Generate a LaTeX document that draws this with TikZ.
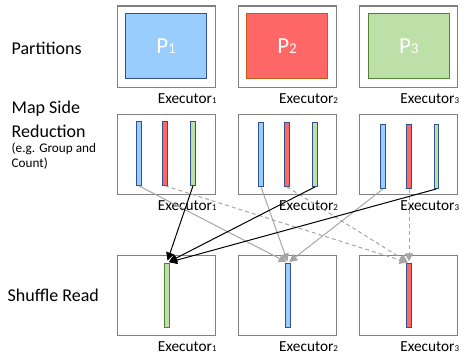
\documentclass[tikz,border=0pt]{standalone}
\usepackage{fontspec}
\setmainfont{Carlito}
\usetikzlibrary{arrows.meta}
\definecolor{boxgray}{HTML}{808080}
\definecolor{fblue}{HTML}{99CCFF}
\definecolor{fred}{HTML}{FF6666}
\definecolor{fgreen}{HTML}{BDDFA8}
\definecolor{dblue}{HTML}{2F528F}
\definecolor{dred}{HTML}{C55A11}
\definecolor{dgreen}{HTML}{548235}
\definecolor{agray}{HTML}{A6A6A6}
\newcommand{\exlab}[1]{Executor{\fontsize{9}{9}\selectfont #1}}
\newcommand{\plab}[1]{P{\fontsize{15}{15}\selectfont #1}}
\tikzset{
  outerbox/.style={draw=boxgray, line width=1.1pt, minimum width=98pt, minimum height=80pt, inner sep=0pt},
  pbox/.style={line width=1pt, minimum width=81.5pt, minimum height=64.7pt, inner sep=0pt, text=white, font=\fontsize{23}{23}\selectfont},
  bar/.style={line width=0.9pt, minimum width=5.4pt, minimum height=64.3pt, inner sep=0pt},
  exl/.style={anchor=east, inner sep=0pt, font=\fontsize{15.3}{15.3}\selectfont},
  rowl/.style={anchor=west, inner sep=0pt, font=\fontsize{18}{18}\selectfont},
  rows/.style={anchor=west, inner sep=0pt, font=\fontsize{13.2}{13.2}\selectfont},
  blk/.style={draw=black, line width=1pt, -{Triangle[length=8pt,width=8pt]}, shorten >=2.5pt},
  gry/.style={draw=agray, line width=1pt, -{Triangle[length=8pt,width=8pt]}, shorten >=1.5pt},
  gryd/.style={gry, dash pattern=on 4pt off 3pt},
}
\begin{document}
\begin{tikzpicture}[x=1pt,y=-1pt]
\useasboundingbox (0,0) rectangle (466,358);
% row labels
\node[rowl] (lpart) at (11.5,48.3) {Partitions};
\node[rowl] (lmap1) at (11.5,109) {Map Side};
\node[rowl] (lmap2) at (11.5,131.7) {Reduction};
\node[rows] (leg1) at (11.5,148.5) {(e.g. Group and};
\node[rows] (leg2) at (11.5,163.5) {Count)};
\node[rowl] (lshuf) at (7.5,295.5) {Shuffle Read};
% row 1
\node[outerbox, minimum height=81.3pt] (o11) at (166.3,46.7) {};
\node[outerbox, minimum height=81.3pt] (o12) at (287.7,46.7) {};
\node[outerbox, minimum height=81.3pt] (o13) at (408.8,46.7) {};
\node[pbox, fill=fblue, draw=dblue] (p1) at (166,46.3) {\plab{1}};
\node[pbox, fill=fred, draw=dred] (p2) at (287,46.3) {\plab{2}};
\node[pbox, fill=fgreen, draw=dgreen] (p3) at (408.8,46.3) {\plab{3}};
\node[exl] (e11) at (216.8,98.7) {\exlab{1}};
\node[exl] (e12) at (338.2,98.7) {\exlab{2}};
\node[exl] (e13) at (459.3,98.7) {\exlab{3}};
% row 2
\node[outerbox] (o21) at (166.3,154.3) {};
\node[outerbox] (o22) at (287.7,154.3) {};
\node[outerbox] (o23) at (408.8,154.3) {};
\node[bar, fill=fblue, draw=dblue] (b1b) at (138.7,153.2) {};
\node[bar, fill=fred, draw=dblue] (b1r) at (165,153.2) {};
\node[bar, fill=fgreen, draw=dblue] (b1g) at (193,153.2) {};
\node[bar, fill=fblue, draw=dblue] (b2b) at (261,154.3) {};
\node[bar, fill=fred, draw=dblue] (b2r) at (287,154.3) {};
\node[bar, fill=fgreen, draw=dblue] (b2g) at (315,154.3) {};
\node[bar, fill=fblue, draw=dblue] (b3b) at (383,156.3) {};
\node[bar, fill=fred, draw=dblue] (b3r) at (409,156.3) {};
\node[bar, fill=fgreen, draw=dblue, minimum width=4.4pt] (b3g) at (436.5,156.3) {};
\node[exl] (e21) at (216.8,206) {\exlab{1}};
\node[exl] (e22) at (338.2,206) {\exlab{2}};
\node[exl] (e23) at (459.3,206) {\exlab{3}};
% row 3
\node[outerbox] (o31) at (166.3,295.3) {};
\node[outerbox] (o32) at (287.7,295.3) {};
\node[outerbox] (o33) at (408.8,295.3) {};
\node[bar, fill=fgreen, draw=dgreen] (s1) at (166.7,295.5) {};
\node[bar, fill=fblue, draw=dblue] (s2) at (288,295.5) {};
\node[bar, fill=fred, draw=dblue] (s3) at (409,295.5) {};
\node[exl] (e31) at (216.8,346.7) {\exlab{1}};
\node[exl] (e32) at (338.2,346.7) {\exlab{2}};
\node[exl] (e33) at (459.3,346.7) {\exlab{3}};
% arrows
\draw[gryd] (b1r.south) -- (s3.north);
\draw[gryd] (b2r.south) -- (s3.north);
\draw[gryd] (b3r.south) -- (s3.north);
\draw[gry] (b1b.south) -- (s2.north);
\draw[gry] (b2b.south) -- (s2.north);
\draw[gry] (b3b.south) -- (s2.north);
\draw[blk] (b1g.south) -- (s1.north);
\draw[blk] (b2g.south) -- (s1.north);
\draw[blk] (b3g.south) -- (s1.north);
\end{tikzpicture}
\end{document}
